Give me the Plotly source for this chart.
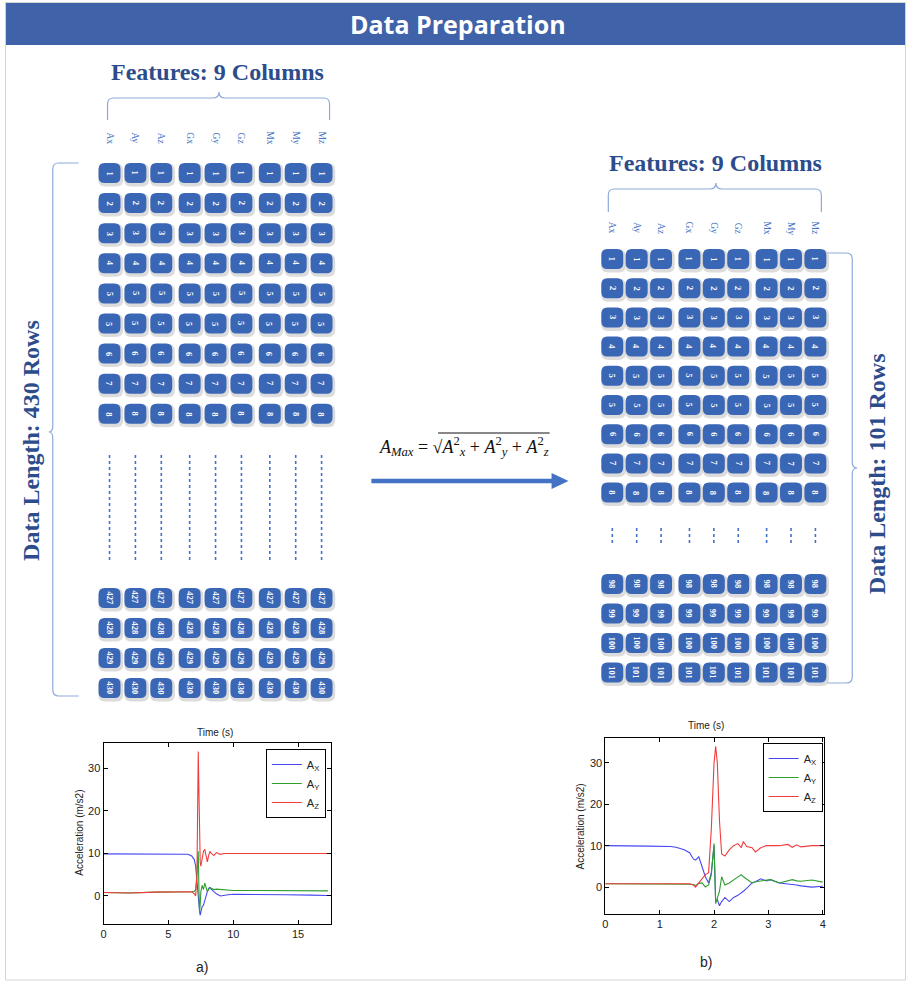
import plotly.graph_objects as go

W, H = 909, 982

# ---------------- data ----------------
features = ["Ax", "Ay", "Az", "Gx", "Gy", "Gz", "Mx", "My", "Mz"]
left_top_rows = ["1", "2", "3", "4", "5", "5", "6", "7", "8"]
left_bottom_rows = ["427", "428", "429", "430"]
right_top_rows = ["1", "2", "3", "4", "5", "5", "6", "7", "8"]
right_bottom_rows = ["98", "99", "100", "101"]

left_t = [0, 2, 4, 6, 6.5, 6.8, 7.0, 7.1, 7.2, 7.25, 7.3, 7.35, 7.4, 7.45, 7.5, 7.6, 7.7,
          7.8, 7.9, 8.0, 8.1, 8.2, 8.3, 8.5, 8.7, 9.0, 9.3, 9.6, 10, 12, 14, 16, 17.3]
left_ax = [9.9, 9.9, 9.9, 9.9, 9.8, 9.4, 8.5, 7.0, 3.0, 1.0, 0.5, -1.5, -3.5, -4.5, -3.5, -2.5, -2.2,
           -1.0, 0.0, 1.0, 1.8, 2.0, 1.6, 1.0, 0.5, 0.0, 0.2, 0.3, 0.4, 0.4, 0.3, 0.2, 0.1]
left_ay = [0.8, 0.7, 0.9, 0.9, 1.0, 1.0, 1.1, 1.5, 5.0, 9.0, 10.5, 2.0, -4.0, -2.0, 1.0, 2.5, 1.5,
           3.0, 2.0, 1.0, 1.5, 2.0, 1.8, 1.5, 1.6, 1.5, 1.4, 1.4, 1.3, 1.3, 1.2, 1.2, 1.2]
left_az = [0.8, 0.7, 0.9, 0.9, 1.0, 1.0, 0.5, 0.0, 5.0, 20.0, 34.0, 25.0, 12.0, 8.0, 7.0, 9.0, 10.5,
           11.0, 9.0, 8.0, 9.5, 10.5, 10.0, 9.5, 10.2, 9.8, 10.0, 10.0, 10.0, 10.0, 10.0, 10.0, 10.0]

right_t = [0, 0.4, 0.8, 1.2, 1.3, 1.45, 1.55, 1.62, 1.66, 1.72, 1.78, 1.84, 1.9, 1.95, 2.0, 2.03,
           2.06, 2.1, 2.14, 2.2, 2.28, 2.36, 2.44, 2.5, 2.54, 2.6, 2.7, 2.76, 2.86, 2.96, 3.04,
           3.2, 3.36, 3.44, 3.52, 3.6, 3.8, 4.0]
right_ax = [10.0, 10.0, 9.9, 9.8, 9.6, 9.0, 8.3, 6.8, 6.5, 7.3, 5.0, 2.5, 1.0, 3.5, 10.0, -3.5,
            -3.0, -4.5, -3.5, -2.5, -3.5, -2.5, -2.0, -1.5, -1.0, -0.3, 1.0, 1.3, 2.0, 1.5, 1.8,
            1.0, 0.8, 0.6, 0.5, 0.3, 0.0, 0.2]
right_ay = [0.8, 0.8, 0.8, 0.8, 0.8, 0.8, 0.7, 0.6, 0.4, 0.9, 1.0, 0.0, 0.5, 3.0, 10.5, -4.0,
            -2.5, -1.0, 2.5, 0.5, 1.0, 1.8, 2.5, 3.0, 2.5, 2.0, 1.0, 1.3, 1.5, 1.6, 1.8,
            1.0, 1.5, 1.8, 1.5, 1.4, 1.7, 1.2]
right_az = [0.8, 0.8, 0.9, 0.8, 0.9, 0.8, 0.8, 0.5, 0.0, 1.0, 2.0, 3.0, 3.5, 14.0, 30.0, 34.0,
            30.0, 16.0, 8.0, 7.5, 9.0, 10.0, 10.5, 9.5, 11.0, 9.8, 9.5, 8.5, 9.5, 10.0, 10.0,
            10.0, 10.3, 9.6, 10.2, 9.7, 10.0, 10.0]

series_names = ["A<sub>X</sub>", "A<sub>Y</sub>", "A<sub>Z</sub>"]

# ---------------- styles / layout constants ----------------
CELL = "#3a66b6"
HEAD = "#2c4c8c"
LABEL = "#4472c4"
BRACE = "#8fa9db"
LINE_COLORS = ["#4646f2", "#2e9e2e", "#f03c3c"]


def px(x):
    return x / W


def py(y):
    return 1 - y / H


def P(x, y):
    return f"{px(x):.5f},{py(y):.5f}"


shapes = []
annotations = []


def note(x, y, text, size, color, family="Liberation Serif", angle=0):
    annotations.append(dict(x=px(x), y=py(y), xref="paper", yref="paper", text=text,
                            showarrow=False, textangle=angle, xanchor="center",
                            yanchor="middle",
                            font=dict(family=family, size=size, color=color)))


def rrect_path(cx, cy, w, h, r):
    x0, x1 = cx - w / 2, cx + w / 2
    y0, y1 = cy - h / 2, cy + h / 2
    return (f"M{P(x0 + r, y0)} L{P(x1 - r, y0)} Q{P(x1, y0)} {P(x1, y0 + r)} "
            f"L{P(x1, y1 - r)} Q{P(x1, y1)} {P(x1 - r, y1)} L{P(x0 + r, y1)} "
            f"Q{P(x0, y1)} {P(x0, y1 - r)} L{P(x0, y0 + r)} Q{P(x0, y0)} {P(x0 + r, y0)} Z")


def add_cell(cx, cy, w, h, label):
    shapes.append(dict(type="path", xref="paper", yref="paper",
                       path=rrect_path(cx + 1.2, cy + 2.0, w + 3, h + 3, 7),
                       fillcolor="rgba(60,60,60,0.18)", line=dict(width=0), layer="above"))
    shapes.append(dict(type="path", xref="paper", yref="paper",
                       path=rrect_path(cx, cy, w, h, 6),
                       fillcolor=CELL, line=dict(width=0), layer="above"))
    note(cx, cy, f"<b>{label}</b>", 8.5, "white", angle=90)


def col_x(x0, pitch, gap, i):
    return x0 + i * pitch + (i // 3) * gap


def add_table(x0, pitch, gap, label_y, top_y0, top_pitch, bot_y0, bot_pitch,
              cw, chh, dot_y0, dot_y1, top_rows, bot_rows):
    for i, name in enumerate(features):
        cx = col_x(x0, pitch, gap, i)
        note(cx, label_y, name, 9.5, LABEL, angle=90)
        for j, r in enumerate(top_rows):
            add_cell(cx, top_y0 + j * top_pitch, cw, chh, r)
        for j, r in enumerate(bot_rows):
            add_cell(cx, bot_y0 + j * bot_pitch, cw, chh, r)
        shapes.append(dict(type="line", xref="paper", yref="paper",
                           x0=px(cx), x1=px(cx), y0=py(dot_y0), y1=py(dot_y1),
                           line=dict(color=LABEL, width=1.6, dash="dot")))


# frame and title bar
shapes.append(dict(type="rect", xref="paper", yref="paper", x0=px(2.5), x1=px(906.5),
                   y0=py(980), y1=py(2.5), line=dict(color="#d4d4d4", width=1), layer="below"))
shapes.append(dict(type="rect", xref="paper", yref="paper", x0=px(3), x1=px(906),
                   y0=py(45), y1=py(3), fillcolor="#3f62a9", line=dict(width=0)))
note(457, 24, "<b>Data Preparation</b>", 25, "white", family="Open Sans")

# left table
add_table(107, 26, 2.5, 138, 173, 30.1, 598, 30.0, 22, 20, 455, 560,
          left_top_rows, left_bottom_rows)
# right table
add_table(612, 24.5, 4, 228, 259, 29.2, 584, 29.5, 22, 20, 528, 543,
          right_top_rows, right_bottom_rows)

# headings
note(215, 72, "<b>Features: 9 Columns</b>", 24, HEAD)
note(716, 163, "<b>Features: 9 Columns</b>", 24, HEAD)
note(28, 440, "<b>Data Length: 430 Rows</b>", 24, HEAD, angle=-90)
note(878, 474, "<b>Data Length: 101 Rows</b>", 24, HEAD, angle=-90)


# braces
def brace_h(xa, xb, yend, ybar, ypeak, xm):
    r = 6
    return (f"M{P(xa, yend)} L{P(xa, ybar + r)} Q{P(xa, ybar)} {P(xa + r, ybar)} "
            f"L{P(xm - r, ybar)} Q{P(xm, ybar)} {P(xm, ypeak)} Q{P(xm, ybar)} {P(xm + r, ybar)} "
            f"L{P(xb - r, ybar)} Q{P(xb, ybar)} {P(xb, ybar + r)} L{P(xb, yend)}")


def brace_v(xend, xbar, xpeak, ya, yb, ym):
    r = 6
    s = 1 if xend > xbar else -1
    return (f"M{P(xend, ya)} L{P(xbar + s * r, ya)} Q{P(xbar, ya)} {P(xbar, ya + r)} "
            f"L{P(xbar, ym - r)} Q{P(xbar, ym)} {P(xpeak, ym)} Q{P(xbar, ym)} {P(xbar, ym + r)} "
            f"L{P(xbar, yb - r)} Q{P(xbar, yb)} {P(xbar + s * r, yb)} L{P(xend, yb)}")


for path in [brace_h(105, 328, 120, 98, 92, 217),
             brace_h(608, 822, 212, 189, 183, 716),
             brace_v(76, 50, 46, 163, 696, 432),
             brace_v(828, 853, 858, 253, 683, 468)]:
    shapes.append(dict(type="path", xref="paper", yref="paper", path=path,
                       line=dict(color=BRACE, width=1.2)))

# formula and arrow
note(463, 446, ("<i>A</i><sub><i>Max</i></sub> = √<i>A</i><sup>2</sup><sub><i>x</i></sub>"
                " + <i>A</i><sup>2</sup><sub><i>y</i></sub>"
                " + <i>A</i><sup>2</sup><sub><i>z</i></sub>"), 18, "#111111")
shapes.append(dict(type="line", xref="paper", yref="paper", x0=px(437), x1=px(549),
                   y0=py(433), y1=py(433), line=dict(color="#111111", width=1)))
shapes.append(dict(type="line", xref="paper", yref="paper", x0=px(370), x1=px(553),
                   y0=py(481), y1=py(481), line=dict(color=LABEL, width=4.5)))
shapes.append(dict(type="path", xref="paper", yref="paper",
                   path=f"M{P(551, 473)} L{P(568, 481)} L{P(551, 489)} Z",
                   fillcolor=LABEL, line=dict(width=0)))

# chart labels
for (x, y, t, a, s) in [(213, 732, "Time (s)", 0, 10), (706, 725, "Time (s)", 0, 10),
                        (76, 833, "Acceleration (m/s2)", -90, 10),
                        (580, 826, "Acceleration (m/s2)", -90, 10),
                        (200, 967, "a)", 0, 14), (706, 962, "b)", 0, 14)]:
    note(x, y, t, s, "#222222", family="Liberation Sans", angle=a)

# ---------------- figure ----------------
fig = go.Figure()
for vals, name, c in zip([left_ax, left_ay, left_az], series_names, LINE_COLORS):
    fig.add_trace(go.Scatter(x=left_t, y=vals, mode="lines", name=name,
                             line=dict(color=c, width=1.1), xaxis="x", yaxis="y",
                             legend="legend"))
for vals, name, c in zip([right_ax, right_ay, right_az], series_names, LINE_COLORS):
    fig.add_trace(go.Scatter(x=right_t, y=vals, mode="lines", name=name,
                             line=dict(color=c, width=1.1), xaxis="x2", yaxis="y2",
                             legend="legend2"))

axis_common = dict(showline=True, linecolor="black", linewidth=1, mirror="allticks",
                   ticks="inside", ticklen=4, tickcolor="black", showgrid=False,
                   zeroline=False, tickfont=dict(family="Liberation Sans", size=11,
                                                 color="#222222"))

legend_common = dict(bordercolor="black", borderwidth=1, bgcolor="white",
                     font=dict(family="Liberation Sans", size=11, color="#222222"),
                     xanchor="left", yanchor="top", tracegroupgap=0, itemwidth=30)

fig.update_layout(
    width=W, height=H, margin=dict(l=0, r=0, t=0, b=0),
    paper_bgcolor="white", plot_bgcolor="white",
    xaxis=dict(domain=[px(101), px(329)], range=[0, 17.5], tickvals=[0, 5, 10, 15],
               anchor="y", **axis_common),
    yaxis=dict(domain=[py(924), py(743)], range=[-6.6, 36], tickvals=[0, 10, 20, 30],
               anchor="x", **axis_common),
    xaxis2=dict(domain=[px(605), px(825)], range=[0, 4.03], tickvals=[0, 1, 2, 3, 4],
                anchor="y2", **axis_common),
    yaxis2=dict(domain=[py(914), py(738)], range=[-6.5, 36], tickvals=[0, 10, 20, 30],
                anchor="x2", **axis_common),
    legend=dict(x=px(264), y=py(749), **legend_common),
    legend2=dict(x=px(763), y=py(743), **legend_common),
    shapes=shapes, annotations=annotations,
)

fig.write_html("out.html", config={"displayModeBar": False},
               post_script="document.body.style.margin='0';"
                           "document.body.style.overflow='hidden';")
